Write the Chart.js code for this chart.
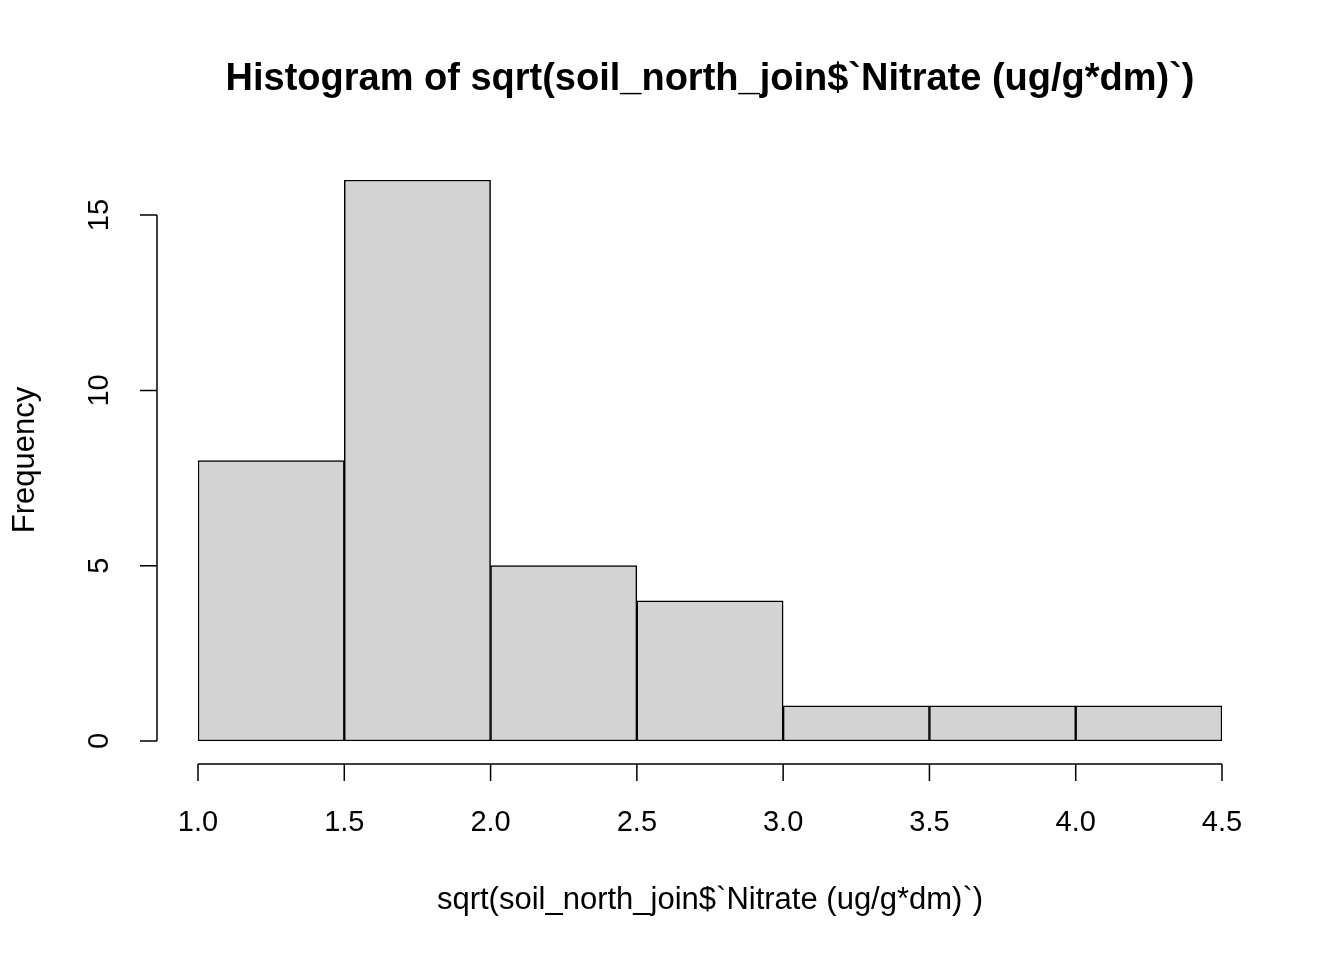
<!DOCTYPE html>
<html>
<head>
<meta charset="utf-8">
<script src="https://cdn.jsdelivr.net/npm/chart.js@4"></script>
<style>
  body { margin: 0; background: #fff; }
  canvas { display: block; }
</style>
</head>
<body>
<canvas id="hist" width="1344" height="960"></canvas>
<script>
// histogram bins and counts
const binStarts = [1.0, 1.5, 2.0, 2.5, 3.0, 3.5, 4.0];
const binWidth = 0.5;
const counts = [8, 16, 5, 4, 1, 1, 1];
const xTicks = [1.0, 1.5, 2.0, 2.5, 3.0, 3.5, 4.0, 4.5];
const yTicks = [0, 5, 10, 15];

const titleText = 'Histogram of sqrt(soil_north_join$`Nitrate (ug/g*dm)`)';
const xTitle = 'sqrt(soil_north_join$`Nitrate (ug/g*dm)`)';
const yTitle = 'Frequency';

const FONT = '"Liberation Sans", Arial, sans-serif';

// draws R-style detached axes, labels and title
const rAxes = {
    id: 'rAxes',
    afterDraw(chart) {
        const ctx = chart.ctx;
        const xs = chart.scales.x;
        const ys = chart.scales.y;
        ctx.save();
        ctx.strokeStyle = '#000';
        ctx.fillStyle = '#000';
        ctx.lineWidth = 1.5;

        // x axis
        const axY = 764;
        ctx.beginPath();
        ctx.moveTo(xs.getPixelForValue(xTicks[0]), axY);
        ctx.lineTo(xs.getPixelForValue(xTicks[xTicks.length - 1]), axY);
        xTicks.forEach(t => {
            const px = xs.getPixelForValue(t);
            ctx.moveTo(px, axY);
            ctx.lineTo(px, axY + 17);
        });
        ctx.stroke();
        ctx.font = '29px ' + FONT;
        ctx.textAlign = 'center';
        ctx.textBaseline = 'middle';
        xTicks.forEach(t => {
            ctx.fillText(t.toFixed(1), xs.getPixelForValue(t), 823);
        });

        // y axis
        const axX = 157;
        ctx.beginPath();
        ctx.moveTo(axX, ys.getPixelForValue(yTicks[0]));
        ctx.lineTo(axX, ys.getPixelForValue(yTicks[yTicks.length - 1]));
        yTicks.forEach(t => {
            const py = ys.getPixelForValue(t);
            ctx.moveTo(axX, py);
            ctx.lineTo(axX - 17, py);
        });
        ctx.stroke();
        yTicks.forEach(t => {
            ctx.save();
            ctx.translate(100, ys.getPixelForValue(t));
            ctx.rotate(-Math.PI / 2);
            ctx.fillText(String(t), 0, 0);
            ctx.restore();
        });

        // axis titles
        ctx.font = '31px ' + FONT;
        ctx.fillText(xTitle, 710, 900);
        ctx.save();
        ctx.translate(25, 460);
        ctx.rotate(-Math.PI / 2);
        ctx.fillText(yTitle, 0, 0);
        ctx.restore();

        // main title
        ctx.font = 'bold 38px ' + FONT;
        ctx.fillText(titleText, 710, 80);
        ctx.restore();
    }
};

new Chart(document.getElementById('hist'), {
    type: 'bar',
    data: {
        datasets: [{
            data: binStarts.map((s, i) => ({ x: s + binWidth / 2, y: counts[i] })),
            backgroundColor: '#d3d3d3',
            borderColor: '#000',
            borderWidth: 1.5,
            borderSkipped: false,
            barPercentage: 1,
            categoryPercentage: 1
        }]
    },
    options: {
        responsive: false,
        animation: false,
        devicePixelRatio: 1,
        layout: { padding: { left: 198, right: 122, top: 180, bottom: 219 } },
        plugins: { legend: { display: false }, tooltip: { enabled: false } },
        scales: {
            x: { type: 'linear', min: 1, max: 4.5, display: false, offset: false },
            y: { min: 0, max: 16, display: false }
        }
    },
    plugins: [rAxes]
});
</script>
</body>
</html>
